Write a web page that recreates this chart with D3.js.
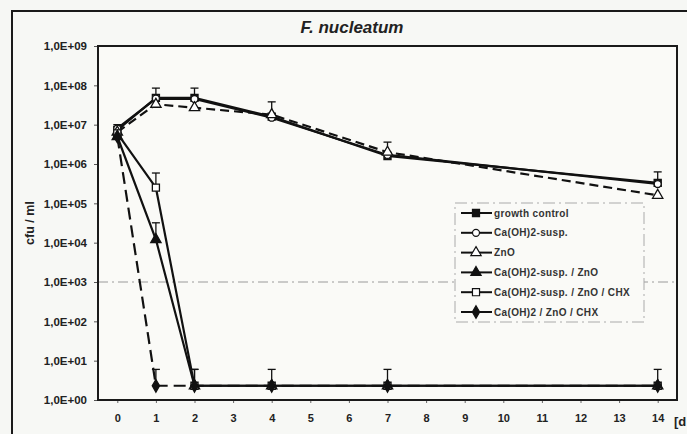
<!DOCTYPE html>
<html>
<head>
<meta charset="utf-8">
<script src="https://cdn.jsdelivr.net/npm/d3@7"></script>
<style>
  body { margin: 0; background: #f6f7f4; }
  svg { display: block; font-family: "Liberation Sans", Arial, sans-serif; }
</style>
</head>
<body>
<div id="chart"></div>
<script>
// days sampled
const days = [0, 1, 2, 4, 7, 14];

// series values (cfu / ml)
const growthControl = [7.3e6, 4.8e7, 4.8e7, 1.6e7, 1.6e6, 3.3e5];
const caohSusp      = [8.0e6, 4.6e7, 4.5e7, 1.5e7, 1.7e6, 3.1e5];
const znO           = [6.5e6, 3.3e7, 2.7e7, 1.8e7, 2.0e6, 1.6e5];
const caohZnO       = [5.0e6, 1.2e4, 2.3, 2.3, 2.3, 2.3];
const caohZnOChx    = [6.0e6, 2.5e5, 2.3, 2.3, 2.3, 2.3];
const caoh2ZnOChx   = [5.0e6, 2.3, 2.3, 2.3, 2.3, 2.3];

// upper error bar ends (null = none drawn)
const growthControlErr = [1.0e7, 8.5e7, 8.5e7, 3.8e7, 3.6e6, 6.3e5];
const caohZnOErr       = [null, 3.2e4, 6.0, 6.0, 6.0, 6.0];
const caohZnOChxErr    = [null, 5.9e5, 6.0, null, null, null];
const caoh2ZnOChxErr   = [null, 6.0, null, null, null, null];

const seriesNames = ["growth control", "Ca(OH)2-susp.", "ZnO", "Ca(OH)2-susp. / ZnO",
                     "Ca(OH)2-susp. / ZnO / CHX", "Ca(OH)2 / ZnO / CHX"];

// y tick values and their labels
const yTicks = [1, 1e1, 1e2, 1e3, 1e4, 1e5, 1e6, 1e7, 1e8, 1e9];
const yTickLabels = ["1,0E+00", "1,0E+01", "1,0E+02", "1,0E+03", "1,0E+04",
                     "1,0E+05", "1,0E+06", "1,0E+07", "1,0E+08", "1,0E+09"];
const xTicks = [0, 1, 2, 3, 4, 5, 6, 7, 8, 9, 10, 11, 12, 13, 14];

const width = 687, height = 434;
const plot = {left: 98, right: 677, top: 46, bottom: 400};

const series = [
    {name: seriesNames[0], values: growthControl, err: growthControlErr, shape: "square", filled: true, dash: null},
    {name: seriesNames[1], values: caohSusp, err: null, shape: "circle", filled: false, dash: null},
    {name: seriesNames[2], values: znO, err: null, shape: "triangle", filled: false, dash: "9,5"},
    {name: seriesNames[3], values: caohZnO, err: caohZnOErr, shape: "triangle", filled: true, dash: null},
    {name: seriesNames[4], values: caohZnOChx, err: caohZnOChxErr, shape: "square", filled: false, dash: null},
    {name: seriesNames[5], values: caoh2ZnOChx, err: caoh2ZnOChxErr, shape: "diamond", filled: true, dash: "12,6"}
];

const x = d3.scaleLinear().domain([-0.5, 14.5]).range([plot.left, plot.right]);
const y = d3.scaleLog().domain([1, 1e9]).range([plot.bottom, plot.top]);

const symbolType = {
    square: d3.symbolSquare,
    circle: d3.symbolCircle,
    triangle: d3.symbolTriangle,
    diamond: d3.symbolDiamond
};
const symbolSize = {square: 50, circle: 38, triangle: 46, diamond: 46};

const svg = d3.select("#chart")
    .append("svg")
    .attr("width", width)
    .attr("height", height);

// outer frame
svg.append("rect")
    .attr("x", 12).attr("y", 11)
    .attr("width", 700).attr("height", 440)
    .attr("fill", "#f7f8f5")
    .attr("stroke", "#1a1a1a")
    .attr("stroke-width", 2);

// plot area
svg.append("rect")
    .attr("x", plot.left).attr("y", plot.top)
    .attr("width", plot.right - plot.left)
    .attr("height", plot.bottom - plot.top)
    .attr("fill", "#fafaf7");

// title
svg.append("text")
    .attr("x", 352).attr("y", 33)
    .attr("text-anchor", "middle")
    .attr("font-size", "17px")
    .attr("font-weight", "bold")
    .attr("font-style", "italic")
    .attr("fill", "#222")
    .text("F. nucleatum");

// grid line at 1E+03
svg.append("line")
    .attr("x1", plot.left).attr("x2", plot.right)
    .attr("y1", y(1e3)).attr("y2", y(1e3))
    .attr("stroke", "#9a9a9a")
    .attr("stroke-width", 1)
    .attr("stroke-dasharray", "10,4,2,4");

// y axis
const yAxis = svg.append("g")
    .attr("transform", `translate(${plot.left}, 0)`)
    .call(d3.axisLeft(y).tickValues(yTicks)
        .tickFormat((d, i) => yTickLabels[i])
        .tickSize(4).tickPadding(7));
yAxis.select(".domain").remove();
yAxis.selectAll(".tick line").attr("stroke", "#555");
yAxis.selectAll(".tick text")
    .attr("font-size", "11.5px")
    .attr("font-weight", "bold")
    .attr("fill", "#222")
    .attr("font-family", "Liberation Sans, Arial, sans-serif");

// x axis
const xAxis = svg.append("g")
    .attr("transform", `translate(0, ${plot.bottom})`)
    .call(d3.axisBottom(x).tickValues(xTicks).tickSize(3).tickPadding(11));
xAxis.select(".domain").remove();
xAxis.selectAll(".tick line").attr("stroke", "#666");
xAxis.selectAll(".tick text")
    .attr("font-size", "11px")
    .attr("font-weight", "bold")
    .attr("fill", "#222")
    .attr("font-family", "Liberation Sans, Arial, sans-serif");

svg.append("text")
    .attr("x", 674).attr("y", 426)
    .attr("font-size", "13px")
    .attr("font-weight", "bold")
    .attr("fill", "#222")
    .text("[d");

// y axis title
svg.append("text")
    .attr("transform", "translate(34, 223) rotate(-90)")
    .attr("text-anchor", "middle")
    .attr("font-size", "12.5px")
    .attr("font-weight", "bold")
    .attr("fill", "#222")
    .text("cfu / ml");

// plot border
svg.append("rect")
    .attr("x", plot.left).attr("y", plot.top)
    .attr("width", plot.right - plot.left)
    .attr("height", plot.bottom - plot.top)
    .attr("fill", "none")
    .attr("stroke", "#1a1a1a")
    .attr("stroke-width", 2);

const line = d3.line()
    .x((d, i) => x(days[i]))
    .y(d => y(d));

const seriesG = svg.selectAll(".series")
    .data(series)
    .join("g")
    .attr("class", "series");

// error bars (upper only)
seriesG.each(function(s) {
    if (!s.err) return;
    const g = d3.select(this);
    s.err.forEach((e, i) => {
        if (e === null) return;
        const cx = x(days[i]);
        g.append("line")
            .attr("x1", cx).attr("x2", cx)
            .attr("y1", y(s.values[i])).attr("y2", y(e))
            .attr("stroke", "#111").attr("stroke-width", 1.3);
        g.append("line")
            .attr("x1", cx - 4).attr("x2", cx + 4)
            .attr("y1", y(e)).attr("y2", y(e))
            .attr("stroke", "#111").attr("stroke-width", 1.3);
    });
});

seriesG.append("path")
    .attr("d", s => line(s.values))
    .attr("fill", "none")
    .attr("stroke", "#111")
    .attr("stroke-width", 2.2)
    .attr("stroke-dasharray", s => s.dash);

seriesG.selectAll(".mark")
    .data(s => s.values.map((v, i) => ({s: s, v: v, i: i})))
    .join("path")
    .attr("class", "mark")
    .attr("transform", d => `translate(${x(days[d.i])}, ${y(d.v)})`)
    .attr("d", d => d3.symbol(symbolType[d.s.shape], symbolSize[d.s.shape])())
    .attr("fill", d => d.s.filled ? "#111" : "#fff")
    .attr("stroke", "#111")
    .attr("stroke-width", 1.3);

// legend
const legend = {left: 455, top: 203, right: 644, bottom: 322, row: 19.8, first: 213};

svg.append("rect")
    .attr("x", legend.left).attr("y", legend.top)
    .attr("width", legend.right - legend.left)
    .attr("height", legend.bottom - legend.top)
    .attr("fill", "#fafaf7")
    .attr("stroke", "#aaa")
    .attr("stroke-width", 1)
    .attr("stroke-dasharray", "12,4,2,4");

const items = svg.selectAll(".legend-item")
    .data(series)
    .join("g")
    .attr("class", "legend-item")
    .attr("transform", (d, i) => `translate(${legend.left}, ${legend.first + i * legend.row})`);

items.append("line")
    .attr("x1", 6).attr("x2", 37)
    .attr("stroke", "#111")
    .attr("stroke-width", 2);

items.append("path")
    .attr("transform", "translate(21, 0)")
    .attr("d", d => d3.symbol(symbolType[d.shape], symbolSize[d.shape])())
    .attr("fill", d => d.filled ? "#111" : "#fff")
    .attr("stroke", "#111")
    .attr("stroke-width", 1.2);

items.append("text")
    .attr("x", 39)
    .attr("dy", "0.35em")
    .attr("font-size", "10px")
    .attr("font-weight", "bold")
    .attr("letter-spacing", "0.35px")
    .attr("fill", "#333")
    .text(d => d.name);
</script>
</body>
</html>
